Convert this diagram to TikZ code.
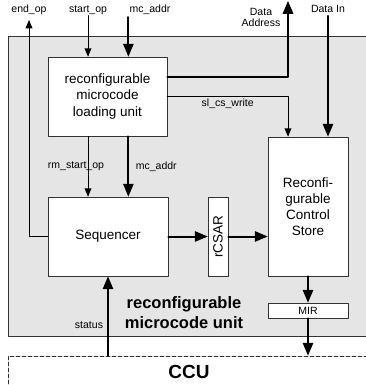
\documentclass[tikz,border=0pt]{standalone}
\usepackage{fontspec}
\setmainfont{Liberation Sans}
\usetikzlibrary{arrows}
\usetikzlibrary{positioning}

\begin{document}
\begin{tikzpicture}[line cap=round,line join=round,>=triangle 45,x=1pt,y=-1pt,
  blk/.style={draw=black!80,fill=white,line width=0.8pt,inner sep=0pt,align=center,font=\fontsize{13.5}{16.5}\selectfont},
  lbl/.style={inner sep=1pt,align=center,font=\fontsize{10.5}{11.5}\selectfont},
  thinarrow/.style={->,line width=0.9pt},
  thickarrow/.style={->,line width=2pt}]
\useasboundingbox (0,0) rectangle (366,385);
\clip (0,0) rectangle (366,385);
% the unit and the CCU
\node[draw=black!80,fill=gray!20,line width=0.8pt,inner sep=0pt,minimum width=362pt,minimum height=300pt] (mcunit) at (189,186) {};
\node[draw=black!80,line width=0.8pt,dash pattern=on 4pt off 2pt,inner sep=0pt,minimum width=362pt,minimum height=32pt,font=\bfseries\fontsize{19}{22}\selectfont] (ccu) at (189,372) {CCU};
\node[align=center,inner sep=0pt,font=\bfseries\fontsize{16.5}{20}\selectfont] (unitname) at (184,313) {reconfigurable\\microcode unit};
% blocks
\node[blk,minimum width=119pt,minimum height=79pt] (loading) at (107.5,96.5) {reconfigurable\\microcode\\loading unit};
\node[blk,minimum width=120pt,minimum height=79pt] (seq) at (108,236.5) {Sequencer};
\node[blk,minimum width=20pt,minimum height=79pt] (rcsar) at (218,236.5) {\rotatebox{90}{rCSAR}};
\node[blk,minimum width=80pt,minimum height=139pt,font=\fontsize{13.5}{16}\selectfont] (cs) at (308,206.5) {Reconfi-\\gurable\\Control\\Store};
\node[blk,minimum width=80pt,minimum height=15pt,font=\fontsize{10.5}{12}\selectfont] (mir) at (308,310.5) {MIR};
% outside signals
\node[lbl] (endop) at (29,10) {end\_op};
\node[lbl] (startop) at (88,10) {start\_op};
\node[lbl] (mcaddr) at (150,10) {mc\_addr};
\node[lbl] (daddrlbl) at (261,17.5) {Data\\Address};
\node[lbl] (datain) at (328,9) {Data In};
\coordinate (daddr) at (288,1);
% connections
\draw[thinarrow] (seq.west) -| ([yshift=-4pt]endop.south);
\draw[thinarrow] (startop.south) -- (startop.south |- loading.north);
\draw[thickarrow] ([yshift=-1pt]mcaddr.south west) -- (mcaddr.south west |- loading.north);
\draw[thickarrow] ([yshift=19.5pt]loading.east) -| (daddr);
\draw[thinarrow] (loading.east) -| (cs.north -| daddr) node[lbl,pos=0.25,below,yshift=-1pt] {sl\_cs\_write};
\draw[thickarrow] ([yshift=-2pt]datain.south) -- (datain.south |- cs.north);
\draw[thinarrow] (startop.south |- loading.south) -- (startop.south |- seq.north) node[lbl,midway,xshift=-12pt] {rm\_start\_op};
\draw[thickarrow] (mcaddr.south west |- loading.south) -- (mcaddr.south west |- seq.north) node[lbl,midway,right,xshift=5.5pt] {mc\_addr};
\draw[thickarrow] (seq.east) -- (rcsar.west);
\draw[thickarrow] (rcsar.east) -- (rcsar.east -| cs.west);
\draw[thickarrow] (cs.south) -- (mir.north);
\draw[thickarrow] (mir.south) -- (mir.south |- ccu.north);
\draw[thickarrow] (ccu.north -| seq.south) -- (seq.south) node[lbl,pos=0.38,left,xshift=-3pt] {status};
\end{tikzpicture}
\end{document}
